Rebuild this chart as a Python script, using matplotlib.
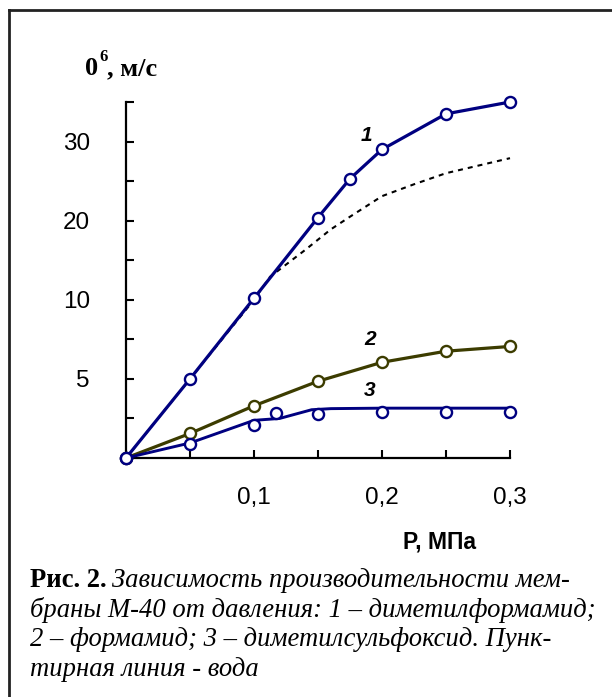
import numpy as np
import matplotlib
matplotlib.use('Agg')
import matplotlib.pyplot as plt
from matplotlib.lines import Line2D

# pressure, MPa
p1 = [0, 0.05, 0.1, 0.15, 0.175, 0.2, 0.25, 0.3]
# 1 - dimethylformamide
dmf = [0, 5.0, 10.2, 20.4, 25.3, 29.0, 33.5, 35.0]
# 2 - formamide
p2 = [0, 0.05, 0.1, 0.15, 0.2, 0.25, 0.3]
fa = [0, 1.55, 3.3, 4.85, 6.05, 6.75, 7.05]
# 3 - dimethylsulfoxide: measured points and the drawn curve
p3 = [0, 0.05, 0.1, 0.117, 0.15, 0.2, 0.25, 0.3]
dmso = [0, 0.9, 2.1, 2.85, 2.8, 2.9, 2.9, 2.9]
p3_line = [0, 0.05, 0.1, 0.12, 0.145, 0.16, 0.2, 0.25, 0.3]
dmso_line = [0, 0.95, 2.38, 2.5, 3.05, 3.12, 3.15, 3.15, 3.15]
# water (dashed line)
pw = [0, 0.05, 0.1, 0.1125, 0.14, 0.16, 0.175, 0.2, 0.225, 0.25, 0.3]
water = [0, 5.0, 10.0, 12.9, 16.3, 18.9, 20.5, 23.1, 24.6, 26.0, 27.9]

xticks = [0, 0.05, 0.1, 0.15, 0.2, 0.25, 0.3]
xlabels = ['', '', '0,1', '', '0,2', '', '0,3']
yticks = [0, 2.5, 5, 7.5, 10, 15, 20, 25, 30, 35]
ylabels = ['', '', '5', '', '10', '', '20', '', '30', '']

blue = '#000080'
olive = '#3c3c00'


# the y axis is broken: 0..10 by 5, then 10..30 by 10, same spacing
def fwd(y):
    y = np.asarray(y, dtype=float)
    return np.where(y <= 10, y / 5.0, 2 + (y - 10) / 10.0)


def inv(t):
    t = np.asarray(t, dtype=float)
    return np.where(t <= 2, t * 5.0, 10 + (t - 2) * 10.0)


W, H = 612, 697
fig = plt.figure(figsize=(W / 100, H / 100), dpi=100)
ax = fig.add_axes([126 / W, 1 - 458 / H, 384 / W, 356 / H])
ax.set_yscale('function', functions=(fwd, inv))

ax.plot(pw, water, color='black', lw=1.5, dashes=(2.4, 2.4), clip_on=False, zorder=2)
ax.plot(p1, dmf, color=blue, lw=2.3, marker='o', ms=8, mfc='white', mec=blue,
        mew=1.7, clip_on=False, zorder=4)
ax.plot(p2, fa, color=olive, lw=2.3, marker='o', ms=8, mfc='white', mec=olive,
        mew=1.7, clip_on=False, zorder=3)
ax.plot(p3_line, dmso_line, color=blue, lw=2.1, clip_on=False, zorder=3)
ax.plot(p3, dmso, ls='none', marker='o', ms=8, mfc='white', mec=blue, mew=1.7,
        clip_on=False, zorder=5)

lab = dict(fontsize=15, fontweight='bold', fontstyle='italic', family='Liberation Sans',
           ha='center', va='center')
ax.text(0.188, 30.8, '1', **lab)
ax.text(0.191, 7.47, '2', **lab)
ax.text(0.190, 4.24, '3', **lab)

ax.set_xlim(0, 0.3)
ax.set_ylim(0, 35)
ax.set_xticks(xticks)
ax.set_xticklabels(xlabels)
ax.set_yticks(yticks)
ax.set_yticklabels(ylabels)
ax.yaxis.set_minor_locator(matplotlib.ticker.NullLocator())
ax.tick_params(direction='in', length=5.5, width=1.5, labelsize=17.5)
ax.tick_params(axis='x', pad=21)
ax.tick_params(axis='y', pad=26)
for lbl in ax.get_xticklabels() + ax.get_yticklabels():
    lbl.set_family('Liberation Sans')
for s in ['top', 'right']:
    ax.spines[s].set_visible(False)
for s in ['left', 'bottom']:
    ax.spines[s].set_linewidth(1.6)

r = fig.canvas.get_renderer()

# axis captions
serif = 'Liberation Serif'
ya = fig.text(85 / W, 1 - 75 / H, '0', family=serif, fontweight='bold', fontsize=19,
              va='baseline')
x = ya.get_window_extent(r).x1 / W + 1 / W
yb = fig.text(x, 1 - 61 / H, '6', family=serif, fontweight='bold', fontsize=12, va='baseline')
x = yb.get_window_extent(r).x1 / W
fig.text(x, 1 - 75 / H, ', м/с', family=serif, fontweight='bold', fontsize=19, va='baseline')
fig.text(403 / W, 1 - 548 / H, 'Р, МПа', family='Liberation Sans', fontweight='bold',
         fontsize=16.5, va='baseline')

# figure caption
cap = 19.2
t0 = fig.text(30 / W, 1 - 587 / H, 'Рис. 2.', family=serif, fontweight='bold', fontsize=cap,
              va='baseline')
x0 = t0.get_window_extent(r).x1 / W + 5 / W
fig.text(x0, 1 - 587 / H, 'Зависимость производительности мем-', family=serif,
         fontstyle='italic', fontsize=cap, va='baseline')
lines = ['браны М-40 от давления: 1 – диметилформамид;',
         '2 – формамид; 3 – диметилсульфоксид. Пунк-',
         'тирная линия - вода']
for i, s in enumerate(lines):
    fig.text(30 / W, 1 - (617 + 29.5 * i) / H, s, family=serif, fontstyle='italic',
             fontsize=cap, va='baseline')

# frame around the figure
fx, fy = 9 / W, 1 - 10 / H
fig.add_artist(Line2D([fx, fx], [0, fy], transform=fig.transFigure, color='#222222', lw=2))
fig.add_artist(Line2D([fx, 1], [fy, fy], transform=fig.transFigure, color='#222222', lw=2))

fig.savefig('out.png', dpi=100)
